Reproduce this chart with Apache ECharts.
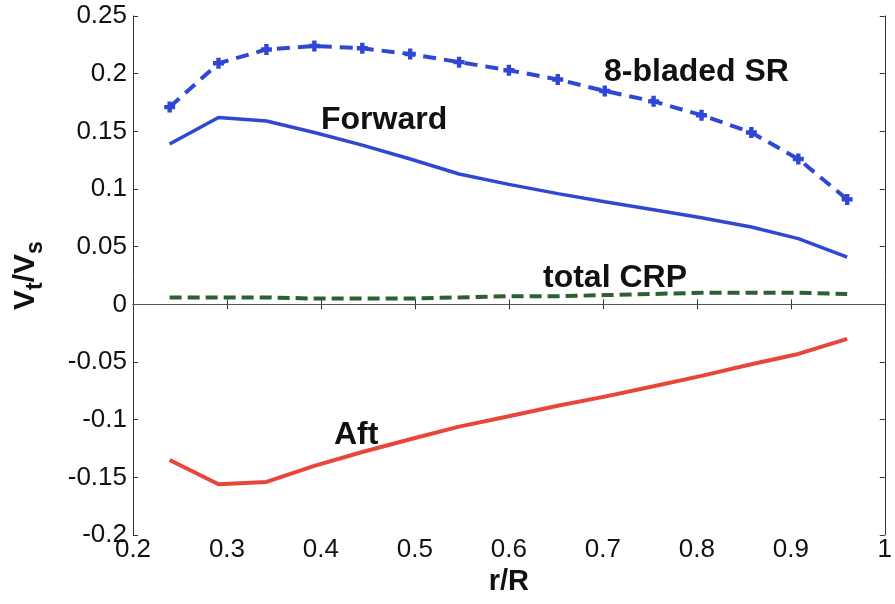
<!DOCTYPE html>
<html>
<head>
<meta charset="utf-8">
<script src="https://cdn.jsdelivr.net/npm/echarts@6/dist/echarts.min.js"></script>
<style>
html, body { margin: 0; padding: 0; background: #fff; }
#chart { width: 895px; height: 604px; }
</style>
</head>
<body>
<div id="chart"></div>
<script>
"use strict";

/*****Data start*****/
var rR = [0.239, 0.291, 0.342, 0.393, 0.444, 0.495, 0.547, 0.600, 0.652, 0.702, 0.754, 0.805, 0.858, 0.908, 0.960];
var srVals = [0.171, 0.209, 0.221, 0.224, 0.222, 0.217, 0.210, 0.203, 0.195, 0.185, 0.176, 0.164, 0.149, 0.126, 0.091];
var forwardVals = [0.139, 0.162, 0.159, 0.149, 0.138, 0.126, 0.113, 0.104, 0.096, 0.089, 0.082, 0.075, 0.067, 0.057, 0.041];
var crpVals = [0.006, 0.006, 0.006, 0.005, 0.005, 0.005, 0.006, 0.007, 0.007, 0.008, 0.009, 0.010, 0.010, 0.010, 0.009];
var aftVals = [-0.135, -0.156, -0.154, -0.140, -0.128, -0.117, -0.106, -0.097, -0.088, -0.080, -0.071, -0.062, -0.052, -0.043, -0.030];
/*****Data end*****/

function pairs(xs, ys) {
	return xs.map(function (x, i) { return [x, ys[i]]; });
}

var blue = '#2e48d4';
var plusPath = 'path://M3,0 L7,0 L7,3 L10,3 L10,7 L7,7 L7,10 L3,10 L3,7 L0,7 L0,3 L3,3 Z';
var font = "'Liberation Sans', Arial, sans-serif";

var chart = echarts.init(document.getElementById('chart'));

var tickStyle = { show: true, inside: true, length: 5, lineStyle: { color: '#333', width: 1 } };
var lineStyleAx = { show: true, lineStyle: { color: '#333', width: 1 } };

/*annotation text helper*/
function note(txt, x, y) {
	return {
		type: 'text', x: x, y: y,
		style: { text: txt, fontSize: 32, fontWeight: 'bold', fill: '#111', fontFamily: font, verticalAlign: 'middle' }
	};
}

var option = {
	animation: false,
	backgroundColor: '#fff',
	grid: { left: 133, right: 2, top: 16, bottom: 69, containLabel: false },
	xAxis: [{
		type: 'value',
		min: 0.2, max: 1, interval: 0.1,
		position: 'bottom',
		axisLine: lineStyleAx,
		axisTick: tickStyle,
		splitLine: { show: false },
		axisLabel: { color: '#111', fontSize: 26, fontFamily: font, margin: 2 },
		name: 'r/R',
		nameLocation: 'middle',
		nameGap: 31,
		nameTextStyle: { color: '#111', fontSize: 29, fontWeight: 'bold', fontFamily: font }
	}, {
		type: 'value',
		min: 0.2, max: 1, interval: 0.1,
		position: 'top',
		axisLine: lineStyleAx,
		axisTick: tickStyle,
		axisLabel: { show: false },
		splitLine: { show: false }
	}],
	yAxis: [{
		type: 'value',
		min: -0.2, max: 0.25, interval: 0.05,
		position: 'left',
		axisLine: lineStyleAx,
		axisTick: tickStyle,
		splitLine: { show: false },
		axisLabel: { color: '#111', fontSize: 26, fontFamily: font, margin: 6 },
		name: '{v|V}{sub|t}{v|/V}{sub|s}',
		nameLocation: 'middle',
		nameRotate: 90,
		nameGap: 86,
		nameTextStyle: {
			fontFamily: font,
			rich: {
				v: { fontSize: 30, fontWeight: 'bold', color: '#111', lineHeight: 42, verticalAlign: 'middle', fontFamily: font },
				sub: { fontSize: 23, fontWeight: 'bold', color: '#111', lineHeight: 42, verticalAlign: 'bottom', fontFamily: font }
			}
		}
	}, {
		type: 'value',
		min: -0.2, max: 0.25, interval: 0.05,
		position: 'right',
		axisLine: lineStyleAx,
		axisTick: tickStyle,
		axisLabel: { show: false },
		splitLine: { show: false }
	}],
	series: [{
		name: 'total CRP',
		type: 'line',
		data: pairs(rR, crpVals),
		showSymbol: false,
		lineStyle: { color: '#2e5f31', width: 4, type: [12, 6] },
		markLine: {
			silent: true,
			symbol: 'none',
			label: { show: false },
			lineStyle: { color: '#555', width: 1.2, type: 'solid' },
			data: [{ yAxis: 0 }]
		},
		z: 2
	}, {
		name: 'Aft',
		type: 'line',
		data: pairs(rR, aftVals),
		showSymbol: false,
		lineStyle: { color: '#e8463c', width: 4 },
		z: 3
	}, {
		name: 'Forward',
		type: 'line',
		data: pairs(rR, forwardVals),
		showSymbol: false,
		lineStyle: { color: blue, width: 3.5 },
		z: 3
	}, {
		name: '8-bladed SR',
		type: 'line',
		data: pairs(rR, srVals),
		symbol: plusPath,
		symbolSize: 11,
		itemStyle: { color: blue },
		lineStyle: { color: blue, width: 4, type: [13, 8] },
		z: 4
	}],
	graphic: [
		note('8-bladed SR', 604, 72),
		note('Forward', 321, 120),
		note('total CRP', 543, 278),
		note('Aft', 334, 435)
	]
};

chart.setOption(option);
</script>
</body>
</html>
